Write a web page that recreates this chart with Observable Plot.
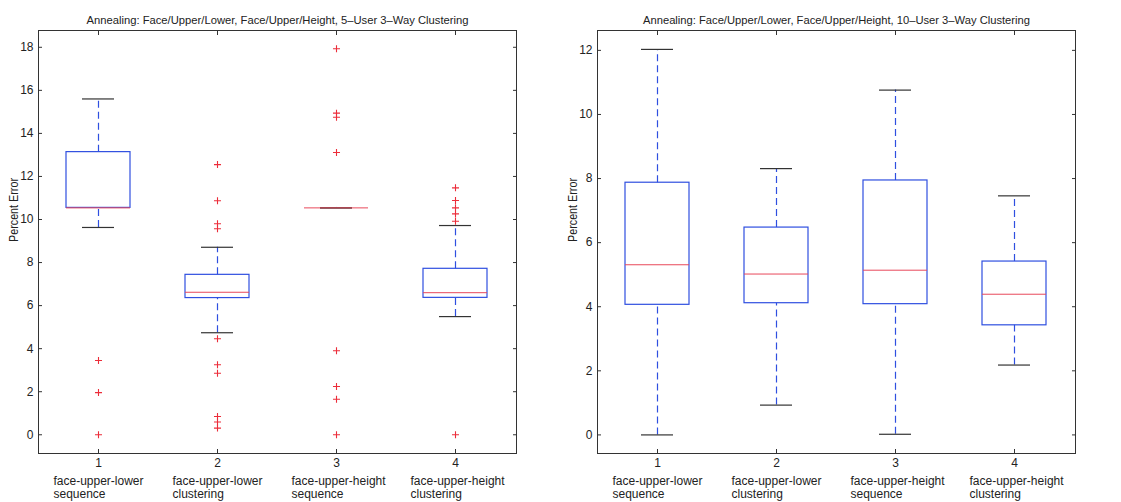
<!DOCTYPE html>
<html>
<head>
<meta charset="utf-8">
<script src="https://cdn.jsdelivr.net/npm/d3@7"></script>
<script src="https://cdn.jsdelivr.net/npm/@observablehq/plot@0.6"></script>
<style>
  html, body { margin: 0; padding: 0; background: #fff; }
  #wrap { display: flex; flex-direction: row; width: 1121px; height: 502px; }
  svg { font-family: "Liberation Sans", Arial, Helvetica, sans-serif; }
</style>
</head>
<body>
<div id="wrap"></div>
<script>
// ---- data ----
const groupIds = [1, 2, 3, 4];
const categoryLabels = [
  "face-upper-lower\nsequence",
  "face-upper-lower\nclustering",
  "face-upper-height\nsequence",
  "face-upper-height\nclustering"
];
const yLabel = "Percent Error";

const leftTitle = "Annealing: Face/Upper/Lower, Face/Upper/Height, 5\u2013User 3\u2013Way Clustering";
const leftLowerWhisker = [9.63, 4.74, 10.54, 5.49];
const leftQ1 = [10.54, 6.35, 10.54, 6.36];
const leftMedian = [10.54, 6.62, 10.54, 6.60];
const leftQ3 = [13.13, 7.43, 10.54, 7.71];
const leftUpperWhisker = [15.6, 8.71, 10.54, 9.72];
const leftOutliers = [
  [3.45, 1.96, 0],
  [12.55, 10.87, 9.80, 9.57, 4.46, 3.25, 2.86, 0.85, 0.59, 0.31],
  [17.93, 14.94, 14.75, 13.11, 3.90, 2.24, 1.65, 0],
  [11.47, 10.88, 10.54, 10.26, 9.92, 0]
];
const leftYTicks = [0, 2, 4, 6, 8, 10, 12, 14, 16, 18];
const leftYDomain = [-0.87, 18.78];

const rightTitle = "Annealing: Face/Upper/Lower, Face/Upper/Height, 10\u2013User 3\u2013Way Clustering";
const rightLowerWhisker = [0, 0.93, 0.02, 2.18];
const rightQ1 = [4.06, 4.11, 4.08, 3.42];
const rightMedian = [5.31, 5.02, 5.14, 4.39];
const rightQ3 = [7.87, 6.47, 7.94, 5.41];
const rightUpperWhisker = [12.03, 8.31, 10.76, 7.46];
const rightOutliers = [[], [], [], []];
const rightYTicks = [0, 2, 4, 6, 8, 10, 12];
const rightYDomain = [-0.58, 12.62];

// ---- styles ----
const BLUE = "#2f4fe0";
const RED = "#ec2d3a";
const MEDIAN_RED = "#e8485a";
const CAP = "#333333";
const AXIS = "#333333";

function panel(opts) {
  const stats = groupIds.map((g, i) => ({
    g,
    lo: opts.lo[i], q1: opts.q1[i], med: opts.med[i], q3: opts.q3[i], hi: opts.hi[i],
    label: categoryLabels[i]
  }));
  const outs = groupIds.flatMap((g, i) => opts.outliers[i].map(v => ({ g, v })));
  const svg = Plot.plot({
    width: opts.width,
    height: 502,
    marginLeft: opts.marginLeft,
    marginRight: opts.marginRight,
    marginTop: 30,
    marginBottom: 49,
    style: { fontSize: "12px", fontFamily: "'Liberation Sans', Arial, Helvetica, sans-serif", color: "#222", background: "#fff" },
    x: { type: "band", domain: groupIds, paddingInner: 0.46, paddingOuter: 0.23, align: 0.5, axis: null },
    y: { domain: opts.yDomain, axis: null },
    marks: [
      // whiskers (dashed)
      Plot.ruleX(stats, { x: "g", y1: "q3", y2: "hi", stroke: BLUE, strokeDasharray: "7,4", strokeWidth: 1.2 }),
      Plot.ruleX(stats, { x: "g", y1: "lo", y2: "q1", stroke: BLUE, strokeDasharray: "7,4", strokeWidth: 1.2 }),
      // whisker caps
      Plot.tickY(stats, { x: "g", y: "hi", stroke: CAP, strokeWidth: 1.2, insetLeft: 16, insetRight: 16 }),
      Plot.tickY(stats, { x: "g", y: "lo", stroke: CAP, strokeWidth: 1.2, insetLeft: 16, insetRight: 16 }),
      // box
      Plot.barY(stats, { x: "g", y1: "q1", y2: "q3", fill: "none", stroke: BLUE, strokeWidth: 1.2 }),
      // median
      Plot.tickY(stats, { x: "g", y: "med", stroke: MEDIAN_RED, strokeWidth: 1 }),
      // outliers
      Plot.dot(outs, { x: "g", y: "v", symbol: "plus", r: 2.4, stroke: RED, strokeWidth: 1.1 }),
      // frame
      Plot.frame({ stroke: AXIS, strokeWidth: 1 }),
      // axes: inward ticks on all four sides
      Plot.axisY(opts.yTicks, { anchor: "left", tickSize: -4, tickPadding: 9, stroke: AXIS, fontSize: 12, label: null }),
      Plot.axisY(opts.yTicks, { anchor: "right", tickSize: -4, fill: "none", stroke: AXIS, label: null }),
      Plot.axisX(groupIds, { anchor: "bottom", tickSize: -4, tickPadding: 9, stroke: AXIS, fontSize: 12, label: null }),
      Plot.axisX(groupIds, { anchor: "top", tickSize: -4, fill: "none", stroke: AXIS, label: null }),
      // y label
      Plot.text([yLabel], { frameAnchor: "left", dx: -24, dy: 0, rotate: -90, fontSize: 12, fill: "#222" }),
      // category labels
      Plot.text(stats, { x: "g", text: "label", frameAnchor: "bottom", dy: 34, dx: -45, textAnchor: "start", lineAnchor: "middle", lineHeight: 1.1, fontSize: 12, fill: "#222" }),
      // title
      Plot.text([opts.title], { frameAnchor: "top", dy: -14, fontSize: 11.2, fill: "#222" })
    ]
  });
  // pin the rendered widths of the title and the y label to the reference's
  d3.select(svg).selectAll("text").each(function () {
    const t = this.textContent;
    if (t === opts.title) { this.setAttribute("textLength", opts.titleWidth); this.setAttribute("lengthAdjust", "spacingAndGlyphs"); }
    if (t === yLabel) { this.setAttribute("textLength", 64); this.setAttribute("lengthAdjust", "spacingAndGlyphs"); }
  });
  return svg;
}

const wrap = document.getElementById("wrap");
wrap.appendChild(panel({
  width: 560, marginLeft: 38, marginRight: 44, titleWidth: 382,
  title: leftTitle, yDomain: leftYDomain, yTicks: leftYTicks,
  lo: leftLowerWhisker, q1: leftQ1, med: leftMedian, q3: leftQ3, hi: leftUpperWhisker, outliers: leftOutliers
}));
wrap.appendChild(panel({
  width: 561, marginLeft: 37, marginRight: 46, titleWidth: 387,
  title: rightTitle, yDomain: rightYDomain, yTicks: rightYTicks,
  lo: rightLowerWhisker, q1: rightQ1, med: rightMedian, q3: rightQ3, hi: rightUpperWhisker, outliers: rightOutliers
}));
</script>
</body>
</html>
